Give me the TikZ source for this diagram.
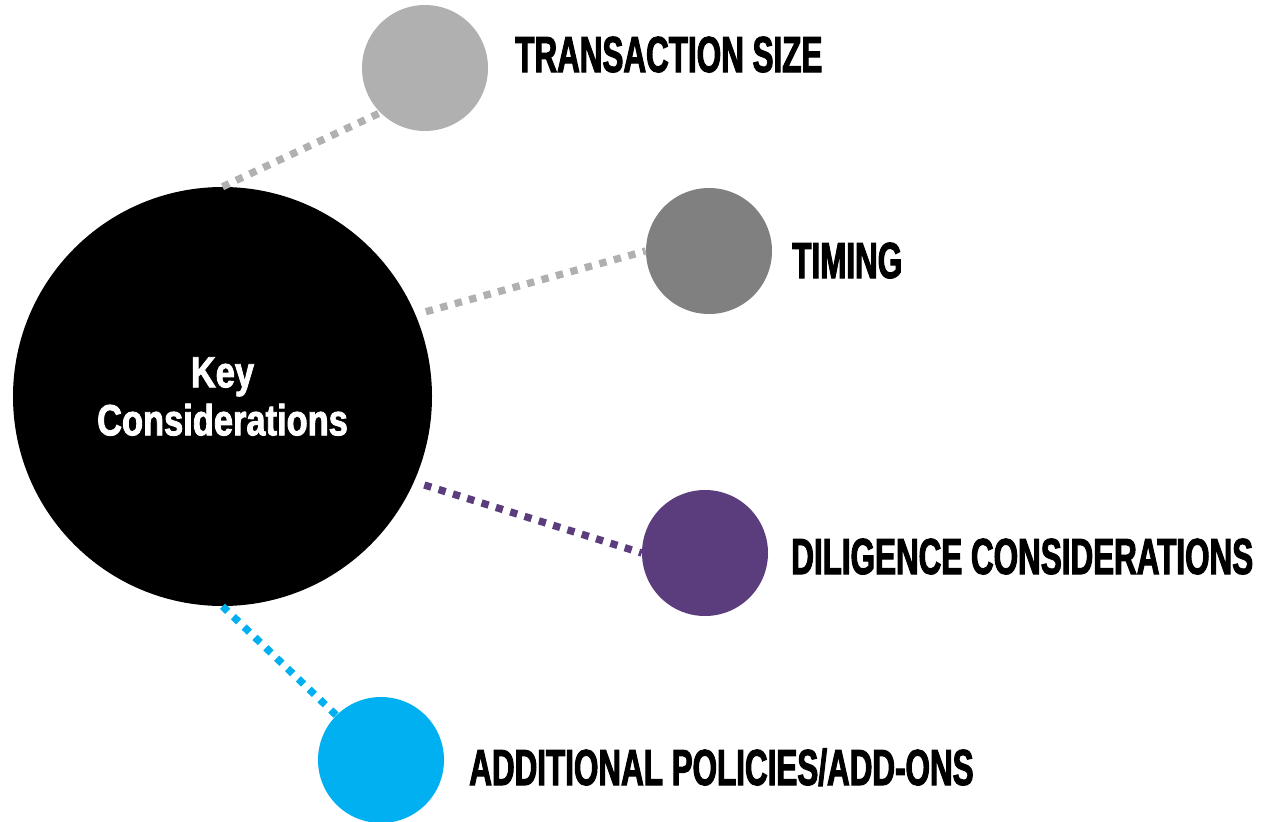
\documentclass[tikz,border=0pt]{standalone}
\usepackage{fontspec}
\usepackage{tikz}
\usetikzlibrary{positioning}
\newfontfamily\labelfont[FakeStretch=0.62,FakeBold=2]{Liberation Sans Bold}
\newfontfamily\keyfont[FakeStretch=0.79,FakeBold=2]{Liberation Sans Bold}
\definecolor{sizegray}{HTML}{B0B0B1}
\definecolor{timinggray}{HTML}{808080}
\definecolor{diligencepurple}{HTML}{5B3D7D}
\definecolor{addonblue}{HTML}{00B0F0}

\begin{document}
\begin{tikzpicture}[x=0.75pt,y=-0.75pt,
		bubble/.style={circle,inner sep=0pt,minimum size=94.5pt},
		dotline/.style={line width=5.5pt,dash pattern=on 5.5pt off 5.75pt},
		caption/.style={anchor=base west,inner sep=0pt,font=\labelfont\fontsize{38}{40}\selectfont}]
		\useasboundingbox (0,0) rectangle (1263,821);
		\node[circle,fill=black,inner sep=0pt,minimum size=314.25pt,text=white,align=center,font=\keyfont\fontsize{32.7}{36}\selectfont] (key) at (222.5,396.5) {Key\\Considerations};
		\node[bubble,fill=sizegray] (size) at (425,68) {};
		\node[bubble,fill=timinggray] (timing) at (709,251) {};
		\node[bubble,fill=diligencepurple] (diligence) at (705,553) {};
		\node[bubble,fill=addonblue] (addons) at (381,760) {};
		\draw[dotline,sizegray] (key.north) -- (size.225);
		\draw[dotline,sizegray,shorten <=8pt] (key.23) -- (timing.west);
		\draw[dotline,diligencepurple,shorten <=8pt] (key.-24) -- (diligence.west);
		\draw[dotline,addonblue] (key.south) -- (addons.135);
		\node[caption] (sizetext) at (515,72) {TRANSACTION SIZE};
		\node[caption] (timingtext) at (792,278) {TIMING};
		\node[caption] (diligencetext) at (791,574) {DILIGENCE CONSIDERATIONS};
		\node[caption] (addonstext) at (469,785) {ADDITIONAL POLICIES/ADD-ONS};
\end{tikzpicture}
\end{document}
